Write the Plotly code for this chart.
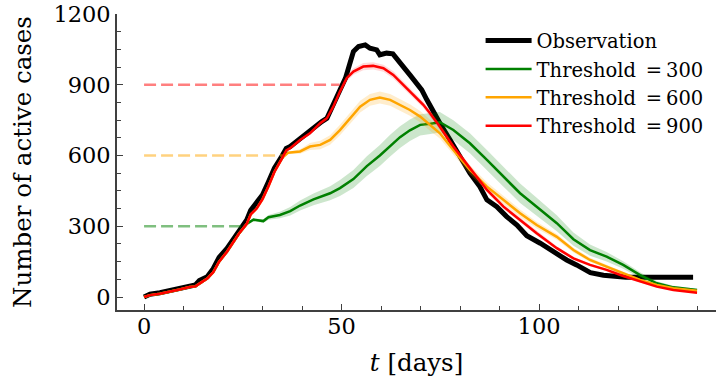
import plotly.graph_objects as go

# ---------------- data ----------------
OBS_T = [0, 1.5, 4, 6.6, 9, 11.5, 13, 14, 16, 17.5, 19, 21, 22.5, 24, 26, 27, 28, 30, 31.5, 33,
         35, 36, 37, 39.5, 41, 43, 45, 46.3, 47, 48.4, 49.6, 51, 52.2, 53, 54.3, 56, 57.2, 58.9,
         59.7, 61.4, 63, 64.4, 65.6, 67.3, 69, 70.3, 71.6, 72.6, 74.9, 77.5, 80, 82.5, 85, 86.8,
         89.3, 91.8, 94.4, 96.9, 100.3, 103.6, 107, 109.5, 113, 116.3, 119.7, 122, 139]
OBS_V = [0, 12, 18, 27, 38, 48, 51, 70, 86, 120, 168, 206, 240, 282, 327, 368, 390, 433, 489, 546,
         600, 630, 638, 673, 694, 716, 744, 758, 786, 829, 878, 928, 991, 1041, 1062, 1069, 1055, 1048,
         1027, 1034, 1031, 1006, 977, 942, 907, 878, 836, 805, 737, 666, 595, 525, 468, 412,
         383, 341, 305, 260, 228, 192, 157, 136, 103, 92, 85, 84, 84]

RED_T = [0, 1.5, 4, 6.6, 9, 11.5, 13, 14.5, 16, 17.5, 19, 21, 22.5, 24, 26, 27, 28.5, 30, 31.5, 33,
         35, 36, 37, 39.5, 42, 44.6, 46.3, 47.9, 49.6, 51.3, 53, 55.5, 58, 60.6, 63.1, 65.6, 68.2,
         70.7, 72.4, 74.9, 78.3, 82.5, 86.8, 91, 95.2, 99.4, 104.5, 108.7, 112.9, 117.1, 121.3,
         125.6, 129.8, 134, 140]
RED_V = [0, 8, 14, 22, 32, 42, 45, 62, 78, 105, 150, 192, 228, 268, 310, 350, 375, 415, 470, 530,
         590, 622, 631, 666, 694, 737, 758, 807, 871, 928, 956, 977, 980, 970, 942, 900, 857,
         815, 779, 722, 638, 546, 454, 383, 327, 270, 207, 164, 136, 115, 89,
         65, 44, 30, 18]
RED_S = [0] * 21 + [2, 3, 5, 7, 9, 10, 11, 12, 13, 14, 15, 15, 15, 15, 15, 14, 14, 13, 13, 12,
                    12, 11, 10, 10, 9, 8, 7, 6, 5, 5, 4, 3, 3, 2]

ORANGE_T = RED_T[:21] + [36.5, 39.5, 42, 44.6, 47.1, 49.6, 52.2, 54.7, 57.2, 59.7, 62.3, 64.8, 67.3,
                         69.9, 72.4, 74.9, 78.3, 82.5, 86.8, 91, 95.2, 99.4, 104.5, 108.7, 112.9,
                         117.1, 121.3, 125.6, 129.8, 134, 140]
ORANGE_V = RED_V[:21] + [612, 617, 638, 645, 666, 708, 758, 807, 836, 846, 836, 815, 793, 765, 728,
                         694, 624, 539, 468, 412, 355, 305, 255, 199, 157, 129, 100, 72, 51, 37, 27]
ORANGE_S = [0] * 21 + [4, 10, 15, 18, 20, 22, 24, 25, 25, 25, 25, 25, 24, 24, 23, 22, 21, 20, 19,
                       18, 16, 14, 12, 10, 9, 8, 6, 5, 4, 3, 3]

GREEN_T = RED_T[:15] + [27.7, 30.2, 31.5, 34.4, 37, 39.5, 42.9, 47.1, 49.6, 53, 56.4, 59.7, 62.3,
                        64.8, 67.3, 69.9, 72.5, 74.9, 78.3, 82.5, 86.8, 91, 95.2, 99.4, 104.5,
                        108.7, 112.9, 117.1, 121.3, 125.6, 129.8, 134, 140]
GREEN_V = RED_V[:15] + [328, 322, 338, 348, 364, 388, 414, 440, 462, 500, 555, 600, 642, 678, 707,
                        730, 735, 741, 708, 652, 581, 510, 440, 383, 313, 245, 199, 171, 136, 93,
                        58, 41, 30]
GREEN_S = [0] * 15 + [5, 8, 10, 14, 18, 21, 25, 30, 34, 38, 42, 45, 46, 46, 46, 45, 44, 43, 42, 42,
                      42, 42, 41, 38, 34, 28, 24, 20, 16, 12, 9, 7, 5]

THRESHOLDS = [300, 600, 900]
REACH_T = [25, 35.5, 49.5]          # day at which observation reaches the threshold
LABELS = ["Threshold\u2002=\u2009300", "Threshold\u2002=\u2009600", "Threshold\u2002=\u2009900"]
COLORS = ["rgb(0,128,0)", "rgb(255,165,0)", "rgb(255,0,0)"]
BAND_COLORS = ["rgba(0,128,0,0.2)", "rgba(255,165,0,0.2)", "rgba(255,0,0,0.15)"]
DASH_COLORS = ["rgba(0,128,0,0.5)", "rgba(255,165,0,0.5)", "rgba(255,0,0,0.5)"]

MODELS = [(GREEN_T, GREEN_V, GREEN_S), (ORANGE_T, ORANGE_V, ORANGE_S), (RED_T, RED_V, RED_S)]

FONT = "DejaVu Serif"

# ---------------- figure ----------------
fig = go.Figure()
fig.add_trace(go.Scatter(x=OBS_T, y=OBS_V, mode="lines", name="Observation",
                         line=dict(color="black", width=5), legendgroup="obs"))

for i, (tt, vv, ss) in enumerate(MODELS):
    fig.add_trace(go.Scatter(x=[0, REACH_T[i]], y=[THRESHOLDS[i], THRESHOLDS[i]], mode="lines",
                             line=dict(color=DASH_COLORS[i], width=2.5, dash="12px,5px"),
                             showlegend=False, hoverinfo="skip"))
    upper = [v + s for v, s in zip(vv, ss)]
    lower = [v - s for v, s in zip(vv, ss)]
    fig.add_trace(go.Scatter(x=tt + tt[::-1], y=upper + lower[::-1], mode="lines",
                             fill="toself", fillcolor=BAND_COLORS[i], line=dict(width=0),
                             showlegend=False, hoverinfo="skip"))
    fig.add_trace(go.Scatter(x=tt, y=vv, mode="lines", name=LABELS[i],
                             line=dict(color=COLORS[i], width=2.5), legendgroup=f"m{i}"))

axis_common = dict(showline=True, linecolor="#404040", linewidth=1.6, mirror=False,
                   showgrid=False, zeroline=False, ticks="inside", ticklen=6, tickwidth=1.2,
                   tickcolor="#404040", automargin=False,
                   tickfont=dict(family=FONT, size=22.5, color="black"))

fig.update_layout(
    width=717, height=379,
    margin=dict(l=117, r=1, t=14, b=69, autoexpand=False),
    plot_bgcolor="white", paper_bgcolor="white",
    font=dict(family=FONT, color="black"),
    xaxis=dict(range=[-6.85, 144.8], tickmode="linear", tick0=0, dtick=50,
               minor=dict(dtick=10, ticks="inside", ticklen=4, tickwidth=1.0, tickcolor="#404040"),
               title=dict(text="<i>t</i> [days]", font=dict(family=FONT, size=24.5), standoff=16),
               ticklabelstandoff=-5,
               **axis_common),
    yaxis=dict(range=[-55.1, 1200], tickmode="linear", tick0=0, dtick=300,
               minor=dict(dtick=75, ticks="inside", ticklen=4, tickwidth=1.0, tickcolor="#404040"),
               title=dict(text="Number of active cases", font=dict(family=FONT, size=24.5), standoff=15),
               **axis_common),
    legend=dict(x=0.607, y=0.975, xanchor="left", yanchor="top", bgcolor="rgba(0,0,0,0)",
                font=dict(family=FONT, size=19.5, color="black"), itemwidth=46,
                tracegroupgap=0),
    showlegend=True,
)

fig.write_html("out.html", config={"displayModeBar": False},
               post_script="document.body.style.margin='0';")
